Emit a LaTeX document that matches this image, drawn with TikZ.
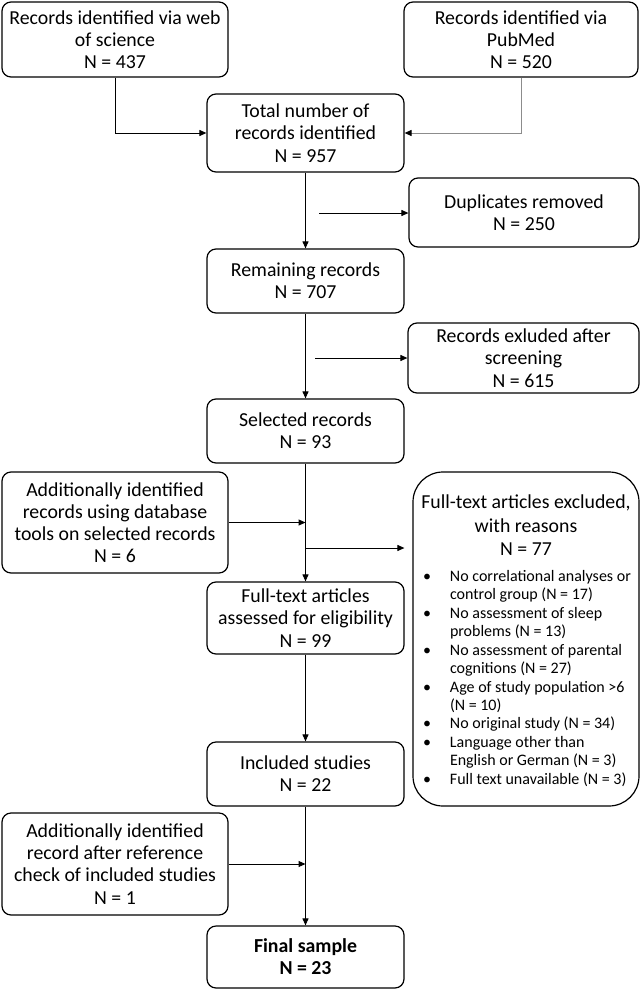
\documentclass[tikz,border=0pt]{standalone}
\usepackage{fontspec}
\setmainfont{Carlito}
\usetikzlibrary{arrows.meta}
\newcommand{\blt}{\makebox[27pt][l]{\textbullet}}
\newcommand{\cnt}{\hspace*{27pt}}
\begin{document}
\begin{tikzpicture}[x=1pt,y=-1pt,
  box/.style={draw, rounded corners=9pt, line width=1.2pt, align=center, inner sep=0pt,
    font=\fontsize{19.8}{22.2}\selectfont},
  conn/.style={line width=1pt, -{Triangle[length=7pt,width=6pt]}},
  grayconn/.style={line width=1pt, draw=black!45, -{Triangle[length=7pt,width=6pt,color=black]}}]
\useasboundingbox (0,0) rectangle (641,991);
\node[box, minimum width=226pt, minimum height=75pt] (wos) at (115,39.5) {Records identified via web\\of science\\N = 437};
\node[box, minimum width=234pt, minimum height=75pt] (pub) at (521,39.5) {Records identified via\\PubMed\\N = 520};
\node[box, minimum width=197pt, minimum height=78pt] (total) at (305.5,133) {Total number of\\records identified\\N = 957};
\node[box, minimum width=230pt, minimum height=69pt] (dup) at (524,212.5) {Duplicates removed\\N = 250};
\node[box, minimum width=197pt, minimum height=64pt] (rem) at (305.5,281) {Remaining records\\N = 707};
\node[box, minimum width=231pt, minimum height=70pt] (rexcl) at (523.5,358) {Records exluded after\\screening\\N = 615};
\node[box, minimum width=197pt, minimum height=64pt] (sel) at (305.5,431) {Selected records\\N = 93};
\node[box, minimum width=226pt, minimum height=101pt] (add1) at (115,522.5) {Additionally identified\\records using database\\tools on selected records\\N = 6};
\node[box, rounded corners=30pt, minimum width=226pt, minimum height=334pt] (big) at (526,639) {};
\node[inner sep=0pt, anchor=north] (bigtxt) at (526,495) {\begin{minipage}{222pt}
\fontsize{19.8}{23.2}\selectfont\centering Full-text articles excluded,\\with reasons\\N = 77\par
\vspace{7.5pt}
\fontsize{16}{18.45}\selectfont\raggedright\leftskip=8pt
\blt No correlational analyses or\\
\cnt control group (N = 17)\\
\blt No assessment of sleep\\
\cnt problems (N = 13)\\
\blt No assessment of parental\\
\cnt cognitions (N = 27)\\
\blt Age of study population >6\\
\cnt (N = 10)\\
\blt No original study (N = 34)\\
\blt Language other than\\
\cnt English or German (N = 3)\\
\blt Full text unavailable (N = 3)\par
\end{minipage}};
\node[box, minimum width=197pt, minimum height=72pt] (fta) at (305.5,618) {Full-text articles\\assessed for eligibility\\N = 99};
\node[box, minimum width=197pt, minimum height=64pt] (inc) at (305.5,774) {Included studies\\N = 22};
\node[box, minimum width=226pt, minimum height=102pt] (add2) at (115,864) {Additionally identified\\record after reference\\check of included studies\\N = 1};
\node[box, minimum width=197pt, minimum height=62pt, font=\fontsize{19.8}{22.2}\selectfont\bfseries] (fin) at (305.5,957) {Final sample\\N = 23};
\coordinate (d1) at (319,213);
\coordinate (e1) at (315,358);
\coordinate (b1) at (305.5,548);
\draw[conn] (wos.south) |- (total.west);
\draw[grayconn] (pub.south) |- (total.east);
\draw[conn] (total.south) -- (rem.north);
\draw[conn] (d1) -- (d1 -| dup.west);
\draw[conn] (rem.south) -- (sel.north);
\draw[conn] (e1) -- (e1 -| rexcl.west);
\draw[conn] (sel.south) -- (fta.north);
\draw[conn] (add1.east) -- (add1.east -| fta.north);
\draw[conn, shorten >=8pt] (b1) -- (b1 -| big.west);
\draw[conn] (fta.south) -- (inc.north);
\draw[conn] (inc.south) -- (fin.north);
\draw[conn] (add2.east) -- (add2.east -| fin.north);
\end{tikzpicture}
\end{document}
